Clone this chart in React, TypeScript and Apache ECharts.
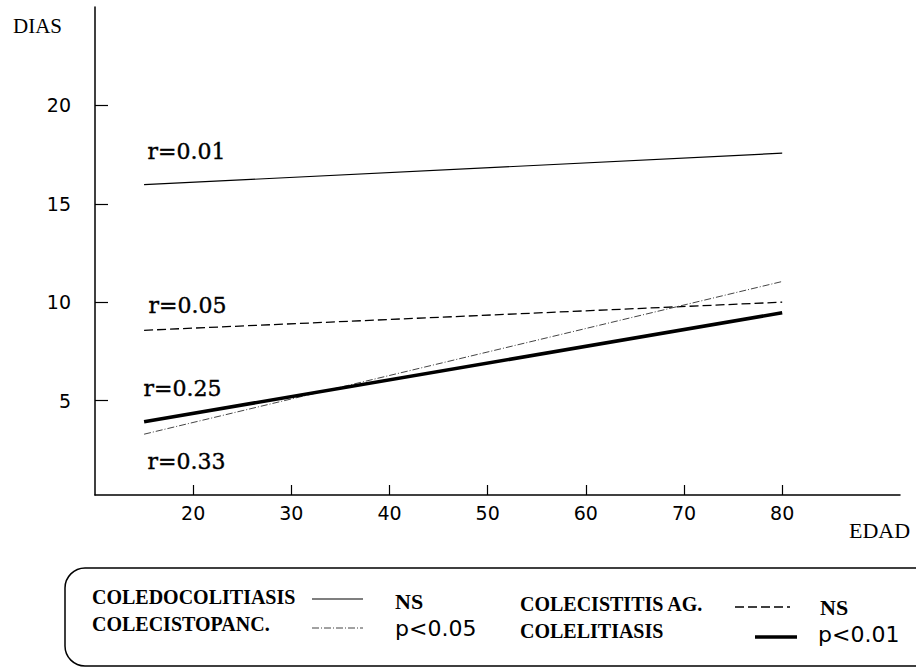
import React, { useEffect, useRef } from "react";
import * as echarts from "echarts";

// ---- data ----
const ages = [15, 80];
const coledocolitiasis = [15.97, 17.57];
const colecistitisAg = [8.57, 10.0];
const colelitiasis = [3.92, 9.46];
const colecistopanc = [3.29, 11.05];

const xTicks = [20, 30, 40, 50, 60, 70, 80];
const yTicks = [5, 10, 15, 20];

const rLabels = ["r=0.01", "r=0.05", "r=0.25", "r=0.33"];
const rLabelX = [15.3, 15.4, 14.9, 15.3];
const rLabelY = [17.64, 9.83, 5.63, 1.88];

const legendNames = ["COLEDOCOLITIASIS", "COLECISTOPANC.", "COLECISTITIS AG.", "COLELITIASIS"];
const legendSig = ["NS", "p<0.05", "NS", "p<0.01"];

const SERIF = '"Liberation Serif", "Times New Roman", serif';
const NUMFONT = '"DejaVu Sans", sans-serif';
const RFONT = '"DejaVu Serif", serif';

const styles = {
  coledo: { color: "#000", width: 1.2, type: "solid" as any },
  colecistopanc: { color: "#444", width: 1, type: [7, 2, 1, 2] as any },
  colecistitis: { color: "#000", width: 1.3, type: [9, 4] as any },
  colelitiasis: { color: "#000", width: 3.6, type: "solid" as any },
};

export default function App() {
  const ref = useRef<HTMLDivElement>(null);

  useEffect(() => {
    if (!ref.current) return;
    const chart = echarts.init(ref.current, null, { renderer: "svg" });

    const mk = (name: string, vals: number[], ls: any) => ({
      name,
      type: "line",
      data: ages.map((a, i) => [a, vals[i]]),
      symbol: "none",
      lineStyle: ls,
      silent: true,
    });

    const legendRows = [
      { name: legendNames[0], sig: legendSig[0], nx: 92, ny: 597, lx1: 312, lx2: 363, ly: 599, sx: 395, sy: 601, st: styles.coledo, sigFont: "bold" },
      { name: legendNames[1], sig: legendSig[1], nx: 92, ny: 624, lx1: 312, lx2: 363, ly: 628, sx: 395, sy: 628, st: styles.colecistopanc, sigFont: "num" },
      { name: legendNames[2], sig: legendSig[2], nx: 520, ny: 604, lx1: 735, lx2: 790, ly: 607, sx: 820, sy: 607, st: styles.colecistitis, sigFont: "bold" },
      { name: legendNames[3], sig: legendSig[3], nx: 520, ny: 631, lx1: 755, lx2: 797, ly: 637, sx: 818, sy: 634, st: styles.colelitiasis, sigFont: "num" },
    ];

    const legendGraphics: any[] = [];
    legendRows.forEach((r) => {
      legendGraphics.push({
        type: "text",
        style: { text: r.name, x: r.nx, y: r.ny, fill: "#000", fontFamily: SERIF, fontWeight: "bold", fontSize: 20, verticalAlign: "middle" },
      });
      legendGraphics.push({
        type: "line",
        shape: { x1: r.lx1, y1: r.ly, x2: r.lx2, y2: r.ly },
        style: { stroke: r.st.color, lineWidth: r.st.width, lineDash: Array.isArray(r.st.type) ? r.st.type : null },
      });
      legendGraphics.push({
        type: "text",
        style: r.sigFont === "bold"
          ? { text: r.sig, x: r.sx, y: r.sy, fill: "#000", fontFamily: SERIF, fontWeight: "bold", fontSize: 22, verticalAlign: "middle" }
          : { text: r.sig, x: r.sx, y: r.sy, fill: "#000", fontFamily: NUMFONT, fontSize: 22, verticalAlign: "middle" },
      });
    });

    chart.setOption({
      animation: false,
      backgroundColor: "#fff",
      grid: { left: 95, right: 16, top: 7, bottom: 173 },
      xAxis: {
        type: "value",
        min: 10,
        max: 92,
        axisLine: { show: true, lineStyle: { color: "#000", width: 1.5 } },
        axisTick: { show: true, inside: true, length: 10, customValues: xTicks, lineStyle: { color: "#000", width: 1.2 } },
        axisLabel: { customValues: xTicks, color: "#000", fontFamily: NUMFONT, fontSize: 19, margin: 8 },
        splitLine: { show: false },
      },
      yAxis: {
        type: "value",
        min: 0.2,
        max: 25,
        axisLine: { show: true, lineStyle: { color: "#000", width: 1.5 } },
        axisTick: { show: true, inside: true, length: 13, customValues: yTicks, lineStyle: { color: "#000", width: 1.2 } },
        axisLabel: { customValues: yTicks, color: "#000", fontFamily: NUMFONT, fontSize: 19, margin: 24 },
        splitLine: { show: false },
      },
      series: [
        mk(legendNames[0], coledocolitiasis, styles.coledo),
        mk(legendNames[2], colecistitisAg, styles.colecistitis),
        mk(legendNames[1], colecistopanc, styles.colecistopanc),
        mk(legendNames[3], colelitiasis, styles.colelitiasis),
        {
          name: "r",
          type: "scatter",
          symbolSize: 1,
          itemStyle: { color: "rgba(0,0,0,0)" },
          silent: true,
          data: rLabelX.map((x, i) => [x, rLabelY[i], rLabels[i]]),
          label: {
            show: true,
            position: "right",
            distance: 0,
            formatter: (p: any) => p.data[2],
            color: "#000",
            opacity: 1,
            textBorderColor: "#000",
            textBorderWidth: 0.4,
            fontFamily: RFONT,
            fontSize: 22,
          },
        },
      ],
      graphic: [
        { type: "text", style: { text: "DIAS", x: 13, y: 26, fill: "#000", fontFamily: SERIF, fontSize: 21, verticalAlign: "middle" } },
        { type: "text", style: { text: "EDAD", x: 849, y: 530, fill: "#000", fontFamily: SERIF, fontSize: 22, verticalAlign: "middle" } },
        {
          type: "rect",
          shape: { x: 65, y: 568, width: 870, height: 98, r: 20 },
          style: { fill: "none", stroke: "#000", lineWidth: 1.5 },
        },
        ...legendGraphics,
      ],
    });

    return () => chart.dispose();
  }, []);

  return (
    <div
      ref={ref}
      style={{ position: "absolute", left: 0, top: 0, width: 916, height: 668, background: "#fff" }}
    />
  );
}
